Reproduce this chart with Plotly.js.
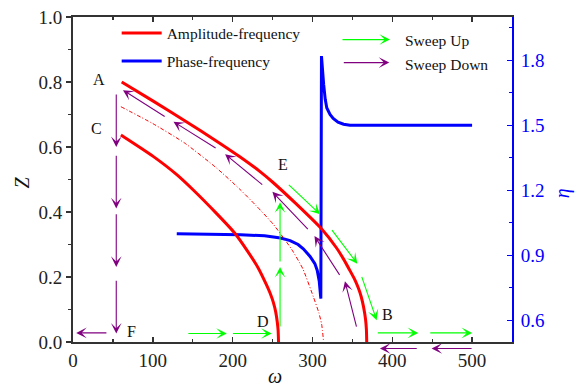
<!DOCTYPE html>
<html>
<head>
<meta charset="utf-8">
<script src="https://cdn.plot.ly/plotly-3.0.1.min.js"></script>
<style>html,body{margin:0;padding:0;background:#fff;}#chart{width:577px;height:388px;}</style>
</head>
<body>
<div id="chart"></div>
<script>
// ---- data ----
const omegaUpper = [61, 100, 140, 180, 209, 234, 251, 280, 311, 330, 339, 348, 353, 357.5, 361, 364, 366.5, 367.6, 368];
const zUpper     = [0.800, 0.742, 0.681, 0.618, 0.570, 0.525, 0.490, 0.424, 0.349, 0.290, 0.255, 0.215, 0.192, 0.166, 0.140, 0.108, 0.070, 0.038, 0.0];

const omegaLower = [60, 100, 130, 151, 180, 203, 218, 232, 242, 247, 251, 254, 256, 257, 257.5];
const zLower     = [0.637, 0.572, 0.515, 0.467, 0.395, 0.334, 0.282, 0.228, 0.178, 0.150, 0.122, 0.092, 0.060, 0.035, 0.0];

const omegaUnstable = [60, 100, 140, 180, 209, 230, 251, 274, 288, 301, 308, 311.5, 314];
const zUnstable     = [0.724, 0.672, 0.612, 0.535, 0.470, 0.418, 0.362, 0.285, 0.225, 0.140, 0.090, 0.055, 0.0];

const omegaPhase = [130, 180, 210, 240, 260, 272, 282, 288.5, 297, 303, 306, 308.5, 310.5, 311.3, 312.5, 314, 316, 318, 322, 326, 332, 339, 347, 500];
const etaPhase   = [1.0, 0.998, 0.995, 0.99, 0.98, 0.968, 0.95, 0.93, 0.895, 0.862, 0.83, 0.78, 0.70, 1.82, 1.75, 1.69, 1.62, 1.58, 1.55, 1.532, 1.515, 1.505, 1.5, 1.5];

// arrows: [tail omega, tail Z, tip omega, tip Z]
const sweepDownArrows = [
  [54.2, 0.763, 54.2, 0.600],
  [54.2, 0.575, 54.2, 0.411],
  [54.2, 0.395, 54.2, 0.231],
  [54.2, 0.190, 54.2, 0.026],
  [42.5, 0.028, 4.0, 0.028],
  [115.5, 0.693, 62.6, 0.775],
  [179.3, 0.596, 125.9, 0.678],
  [237.7, 0.483, 190.6, 0.578],
  [294.8, 0.346, 249.8, 0.462],
  [334.4, 0.205, 302.5, 0.326],
  [355.3, 0.046, 340.7, 0.187]
];
// arrows drawn just below the omega axis: [tail omega, tip omega]
const sweepDownBelowAxis = [[431.3, 384.5], [500, 449.2]];
const sweepUpArrows = [
  [143.9, 0.026, 192.7, 0.026],
  [199.7, 0.026, 249.0, 0.026],
  [259.4, 0.046, 259.4, 0.231],
  [259.4, 0.246, 259.4, 0.430],
  [269.8, 0.485, 309.5, 0.393],
  [324.0, 0.346, 356.2, 0.241],
  [361.6, 0.202, 380.4, 0.067],
  [381.2, 0.028, 432.5, 0.028],
  [447.0, 0.028, 500.0, 0.028]
];
const pointLabels = ['A', 'B', 'C', 'D', 'E', 'F'];
const pointOmega  = [32.9, 393.7, 29.5, 238.5, 263.5, 73.8];
const pointZ      = [0.809, 0.085, 0.657, 0.062, 0.547, 0.031];

const xTickVals = [0, 100, 200, 300, 400, 500];

// ---- figure ----
const FONT = 'Liberation Serif, Times New Roman, serif';
const RED = '#ff0000', BLUE = '#0000ff', GREEN = '#00ff00', PURPLE = '#800080';

const traces = [
  {x: omegaPhase, y: etaPhase, xaxis: 'x', yaxis: 'y', mode: 'lines',
   line: {color: BLUE, width: 3}, name: 'Phase-frequency', legendgroup: 'b', legendrank: 2},
  {x: omegaUpper, y: zUpper, xaxis: 'x', yaxis: 'y2', mode: 'lines',
   line: {color: RED, width: 3, shape: 'spline', smoothing: 0.5}, name: 'Amplitude-frequency', legendgroup: 'a', legendrank: 1},
  {x: omegaLower, y: zLower, xaxis: 'x', yaxis: 'y2', mode: 'lines',
   line: {color: RED, width: 3, shape: 'spline', smoothing: 0.5}, showlegend: false, legendgroup: 'a'},
  {x: omegaUnstable, y: zUnstable, xaxis: 'x', yaxis: 'y2', mode: 'lines',
   line: {color: RED, width: 1, dash: '4px,2px,1px,2px', shape: 'spline', smoothing: 0.5}, showlegend: false, legendgroup: 'a'}
];

const annotations = [];
function arrowAnn(a, color) {
  return {x: a[2], y: a[3], ax: a[0], ay: a[1], xref: 'x', yref: 'y2', axref: 'x', ayref: 'y2',
    text: '', showarrow: true, arrowhead: 3, arrowsize: 1.6, arrowwidth: 1.1, arrowcolor: color,
    standoff: 0, startstandoff: 0, borderpad: 0};
}
sweepDownArrows.forEach(a => annotations.push(arrowAnn(a, PURPLE)));
sweepUpArrows.forEach(a => annotations.push(arrowAnn(a, GREEN)));
sweepDownBelowAxis.forEach(a => annotations.push({
  x: a[1], y: -0.02, xref: 'x', yref: 'paper', ax: a[0], ay: 0, axref: 'x', ayref: 'pixel',
  text: '', showarrow: true, arrowhead: 3, arrowsize: 1.6, arrowwidth: 1.1, arrowcolor: PURPLE,
  standoff: 0, startstandoff: 0, borderpad: 0}));
pointLabels.forEach((t, i) => annotations.push({
  x: pointOmega[i], y: pointZ[i], xref: 'x', yref: 'y2', text: t, showarrow: false,
  xanchor: 'center', yanchor: 'middle', font: {family: FONT, size: 16, color: '#111'}}));

// sweep legend (arrow keys)
annotations.push({x: 0.7221, y: 0.9305, xref: 'paper', yref: 'paper', ax: -48, ay: 0, axref: 'pixel', ayref: 'pixel',
  text: '', showarrow: true, arrowhead: 3, arrowsize: 1.6, arrowwidth: 1.1, arrowcolor: GREEN, standoff: 0, startstandoff: 0, borderpad: 0});
annotations.push({x: 0.7205, y: 0.8597, xref: 'paper', yref: 'paper', ax: -46, ay: 0, axref: 'pixel', ayref: 'pixel',
  text: '', showarrow: true, arrowhead: 3, arrowsize: 1.6, arrowwidth: 1.1, arrowcolor: PURPLE, standoff: 0, startstandoff: 0, borderpad: 0});
annotations.push({x: 0.7524, y: 0.9283, xref: 'paper', yref: 'paper', text: 'Sweep Up', showarrow: false,
  xanchor: 'left', yanchor: 'middle', font: {family: FONT, size: 15.5, color: '#111'}});
annotations.push({x: 0.7524, y: 0.8545, xref: 'paper', yref: 'paper', text: 'Sweep Down', showarrow: false,
  xanchor: 'left', yanchor: 'middle', font: {family: FONT, size: 15.5, color: '#111'}});

// axis titles
annotations.push({x: 0.460, y: -0.106, xref: 'paper', yref: 'paper', text: '<i>ω</i>', showarrow: false,
  xanchor: 'center', yanchor: 'middle', font: {family: FONT, size: 20, color: '#111'}});
annotations.push({x: -0.1155, y: 0.492, xref: 'paper', yref: 'paper', text: '<i>Z</i>', showarrow: false, textangle: -90,
  xanchor: 'center', yanchor: 'middle', font: {family: FONT, size: 20, color: '#111'}});
annotations.push({x: 1.114, y: 0.4575, xref: 'paper', yref: 'paper', text: '<i>η</i>', showarrow: false, textangle: -90,
  xanchor: 'center', yanchor: 'middle', font: {family: FONT, size: 20, color: BLUE}});

const layout = {
  width: 577, height: 388,
  margin: {l: 73, r: 65, t: 17, b: 46},
  paper_bgcolor: '#fff', plot_bgcolor: '#fff',
  font: {family: FONT, size: 19, color: '#222'},
  showlegend: true,
  legend: {x: 0.0995, y: 1.002, xanchor: 'left', yanchor: 'top', bgcolor: 'rgba(0,0,0,0)',
    font: {family: FONT, size: 15.5, color: '#111'}, tracegroupgap: 5, traceorder: 'grouped', itemwidth: 40},
  xaxis: {range: [0, 550], tickvals: xTickVals, ticks: 'inside', ticklen: 5, tickwidth: 1.5, tickcolor: '#333',
    showline: true, linecolor: '#333', linewidth: 2, mirror: 'ticks', showgrid: false, zeroline: false,
    minor: {dtick: 50, tick0: 0, ticks: 'inside', ticklen: 3, tickwidth: 1.2, tickcolor: '#333'},
    tickfont: {family: FONT, size: 19, color: '#222'}, fixedrange: true},
  yaxis: {range: [0.5, 2.0], side: 'right', tick0: 0.6, dtick: 0.3, tickformat: '.1f', ticks: 'inside', ticklen: 5,
    tickwidth: 1.5, tickcolor: BLUE, showline: true, linecolor: BLUE, linewidth: 2, showgrid: false, zeroline: false,
    minor: {dtick: 0.15, tick0: 0.6, ticks: 'inside', ticklen: 3, tickwidth: 1.2, tickcolor: BLUE},
    tickfont: {family: FONT, size: 19, color: BLUE}, ticklabelstandoff: 3},
  yaxis2: {range: [0, 1], overlaying: 'y', side: 'left', dtick: 0.2, tick0: 0, tickformat: '.1f', ticks: 'outside', ticklen: 5,
    tickwidth: 1.5, tickcolor: '#333', showline: true, linecolor: '#333', linewidth: 2, showgrid: false, zeroline: false,
    minor: {dtick: 0.1, tick0: 0, ticks: 'outside', ticklen: 3, tickwidth: 1.2, tickcolor: '#333'},
    tickfont: {family: FONT, size: 19, color: '#222'}},
  annotations: annotations
};

Plotly.newPlot('chart', traces, layout, {staticPlot: true, displayModeBar: false});
</script>
</body>
</html>
